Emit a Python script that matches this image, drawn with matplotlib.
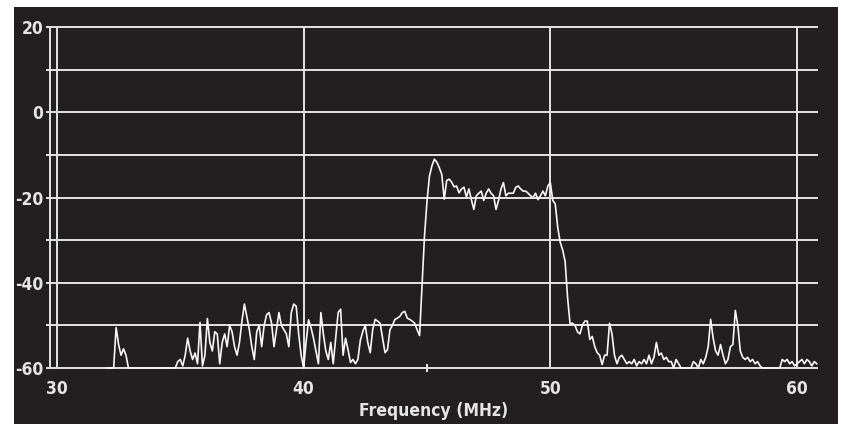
import numpy as np
import matplotlib.pyplot as plt
from matplotlib.patches import Rectangle

# sweep: 32.0 .. 60.8 MHz, 0.1 MHz per point
freq_start = 32.0
freq_step = 0.1
level_db = [
    # 32.x
    -60, -60, -60, -60, -50.5, -54.5, -57, -55.5, -57, -60,
    # 33.x
    -60, -60, -60, -60, -60, -60, -60, -60, -60, -60,
    # 34.x
    -60, -60, -60, -60, -60, -60, -60, -60, -60, -58.5,
    # 35.x
    -58, -59.5, -57, -53, -56, -58, -56.5, -59, -49.3, -59.5,
    # 36.x
    -57, -48.4, -54, -56, -51.5, -52, -59, -54, -52, -55,
    # 37.x
    -50, -51.5, -55, -57, -54, -49, -45, -48, -51, -55,
    # 38.x
    -58, -51.5, -50, -55, -50, -47.5, -47, -49.5, -55, -51,
    # 39.x
    -47, -50, -51, -52, -55, -47, -45, -45.5, -52, -57,
    # 40.x
    -60, -54, -48.7, -50.5, -53, -56, -59, -47, -52, -56,
    # 41.x
    -58, -54, -59, -53, -47, -46.2, -57, -53, -55.7, -58.7,
    # 42.x
    -58, -59, -58, -53.5, -51.4, -50, -54, -56.4, -51, -48.6,
    # 43.x
    -49, -49.5, -53, -56.4, -55.7, -51, -50, -48.6, -48.3, -47.9,
    # 44.x
    -47, -46.7, -48.3, -48.6, -49, -49.5, -51, -52.4, -40.5, -29,
    # 45.x
    -21, -15, -12.6, -11, -11.7, -13, -14.6, -20.4, -16, -15.7,
    # 46.x
    -16.4, -17.5, -17.3, -18.9, -18, -17.6, -19.9, -18, -20.5, -22.8,
    # 47.x
    -19.6, -19, -18.5, -20.7, -19, -18, -19, -19.6, -22.8, -20.7,
    # 48.x
    -18, -16.5, -19.6, -19, -19, -19, -17.6, -17.3, -18, -18.5,
    # 49.x
    -18.5, -19, -19.6, -20, -19, -20.5, -19.6, -18.5, -19.6, -17.3,
    # 50.x
    -16.5, -20.7, -21.5, -27, -30.5, -32.3, -35, -43.5, -49.6, -49.5,
    # 51.x
    -50, -51.5, -52, -50, -49, -49, -53.3, -52.6, -55, -56.4,
    # 52.x
    -57, -59.2, -57, -57, -49.5, -52, -57, -59, -57.5, -57,
    # 53.x
    -58, -59, -58.5, -59, -58, -59.5, -58.5, -59, -58, -59,
    # 54.x
    -57, -59, -57.5, -54, -57, -56.5, -58, -57.5, -58.5, -58.5,
    # 55.x
    -60, -58, -59, -60, -60, -60, -60, -60, -58.5, -59,
    # 56.x
    -60, -58, -59, -57.5, -55, -48.6, -53, -56, -57, -54.5,
    # 57.x
    -57, -59, -58, -55, -54.5, -46.5, -50, -56, -57.5, -58,
    # 58.x
    -57.5, -58.5, -58, -59, -58.5, -59.5, -60, -60, -60, -60,
    # 59.x
    -60, -60, -60, -60, -58, -58.5, -58, -59, -58.5, -59.5,
    # 60.x
    -59, -58.5, -58, -59, -58, -58.5, -59.5, -58.5, -59,
]
freq_mhz = freq_start + freq_step * np.arange(len(level_db))

y_grid = [-60, -50, -40, -30, -20, -10, 0, 10, 20]
y_labels = [20, 0, -20, -40, -60]
x_grid = [30, 40, 50, 60]
x_minor = [45]

bg = '#231f20'
fg = '#e4e4e4'
font = dict(family=['Liberation Sans Narrow', 'DejaVu Sans'], fontweight='bold',
            fontstretch='condensed')

fig = plt.figure(figsize=(8.41, 4.24), dpi=100)
fig.patch.set_facecolor('white')
fig.patches.append(Rectangle((14 / 841, 0), 824 / 841, 417 / 424,
                             transform=fig.transFigure, facecolor=bg,
                             edgecolor='none', zorder=-1))

ax = fig.add_axes([50 / 841, 56 / 424, 767 / 841, 341 / 424])
ax.set_zorder(1)
ax.set_facecolor('none')
ax.set_xlim(29.72, 60.81)
ax.set_ylim(-60, 20)

for s in ['top', 'right', 'bottom']:
    ax.spines[s].set_visible(False)
ax.spines['left'].set_color(fg)
ax.spines['left'].set_linewidth(1.4)

for y in y_grid:
    ax.axhline(y, color=fg, lw=1.4, zorder=1, clip_on=False)
for x in x_grid:
    ax.axvline(x, color=fg, lw=1.4, zorder=1)

ax.plot(freq_mhz, level_db, color='#f6f6f6', lw=1.2, zorder=3, clip_on=False)

ax.set_yticks(y_grid)
ax.set_yticklabels([str(v) if v in y_labels else '' for v in y_grid], color=fg,
                   fontsize=12.5, **font)
ax.tick_params(axis='y', length=3, width=1.4, color=fg, pad=2)

ax.set_xticks(x_grid)
ax.set_xticklabels([str(v) for v in x_grid], color=fg, fontsize=12.5, **font)
ax.set_xticks(x_minor, minor=True)
ax.tick_params(axis='x', which='major', length=0, pad=9)
ax.tick_params(axis='x', which='minor', length=6, width=1.4, color=fg,
               direction='inout')

fig.text(433.5 / 841, 1 - 411 / 424, 'Frequency (MHz)', color=fg, fontsize=12.5,
         ha='center', va='center', **font)

fig.savefig('out.png', dpi=100, facecolor=fig.get_facecolor())
